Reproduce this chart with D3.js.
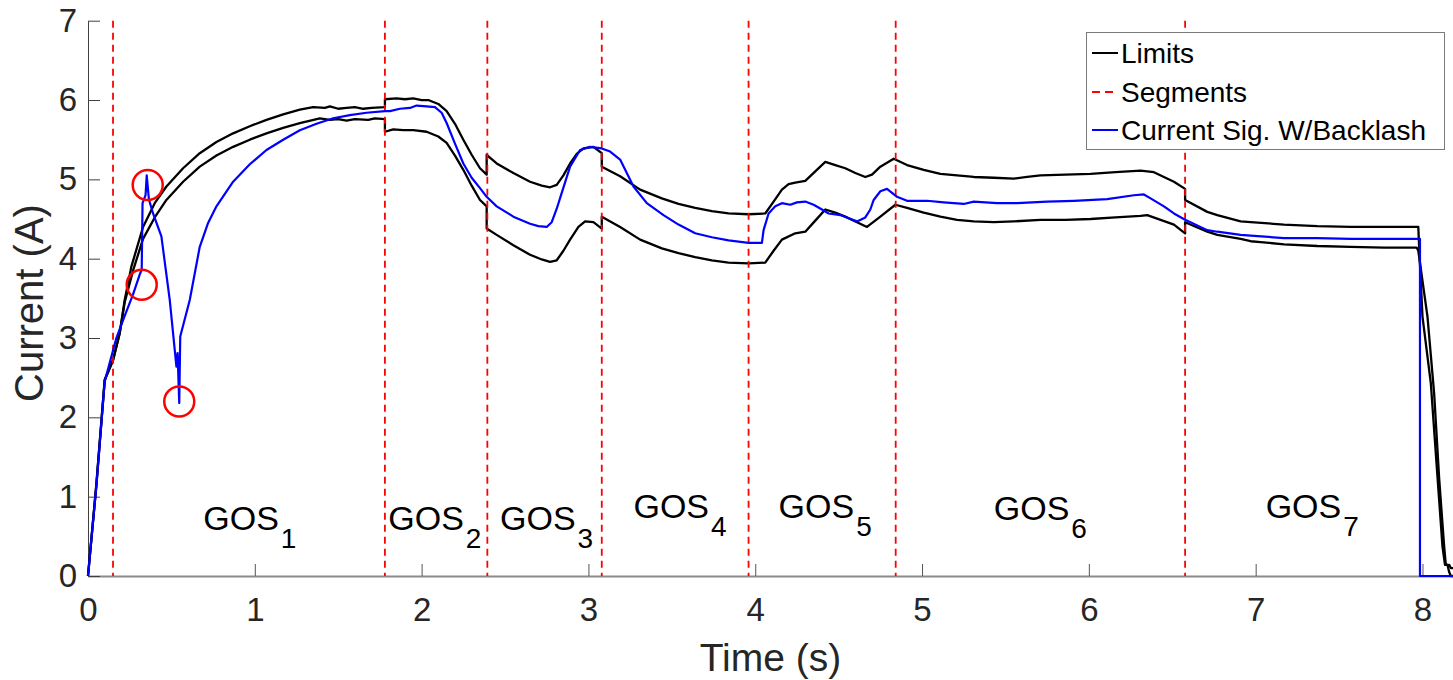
<!DOCTYPE html>
<html>
<head>
<meta charset="utf-8">
<script src="https://cdn.jsdelivr.net/npm/d3@7"></script>
<style>
  html, body { margin: 0; padding: 0; background: #fff; }
  svg { display: block; font-family: "Liberation Sans", Arial, Helvetica, sans-serif; }
</style>
</head>
<body>
<svg id="chart" width="1453" height="680"></svg>
<script>
// ---- data -------------------------------------------------------------
// Upper current limit [time (s), current (A)]
const upperLimit = [
  [0,0],[0.05,1.15],[0.10,2.47],[0.15,2.72],[0.19,3.06],[0.22,3.48],[0.26,3.90],
  [0.33,4.40],[0.40,4.70],[0.47,4.91],[0.57,5.14],[0.67,5.33],[0.77,5.47],[0.87,5.58],
  [0.97,5.67],[1.07,5.75],[1.17,5.82],[1.27,5.88],[1.35,5.91],[1.42,5.90],[1.45,5.92],
  [1.50,5.89],[1.55,5.90],[1.60,5.91],[1.65,5.89],[1.70,5.90],[1.78,5.91],
  [1.78,6.01],[1.85,6.02],[1.90,6.01],[1.95,6.02],[2.00,6.00],[2.04,6.00],[2.10,5.95],
  [2.15,5.86],[2.20,5.70],[2.25,5.50],[2.30,5.31],[2.35,5.14],[2.39,5.06],
  [2.39,5.31],[2.45,5.20],[2.55,5.08],[2.65,4.97],[2.72,4.92],[2.77,4.90],[2.81,4.93],
  [2.85,5.05],[2.89,5.20],[2.93,5.32],[2.97,5.39],[3.03,5.41],[3.08,5.33],
  [3.08,5.16],[3.19,5.04],[3.31,4.87],[3.44,4.76],[3.54,4.69],[3.64,4.64],[3.74,4.60],
  [3.84,4.57],[3.96,4.56],[4.06,4.57],[4.11,4.72],[4.16,4.87],[4.20,4.94],[4.24,4.96],
  [4.30,4.98],[4.36,5.10],[4.42,5.22],[4.48,5.18],[4.54,5.14],[4.60,5.08],[4.66,5.03],
  [4.70,5.06],[4.75,5.16],[4.83,5.26],[4.91,5.18],[5.01,5.12],[5.11,5.07],[5.21,5.05],
  [5.31,5.03],[5.43,5.02],[5.55,5.01],[5.63,5.03],[5.71,5.05],[5.86,5.06],[6.01,5.07],
  [6.16,5.09],[6.31,5.11],[6.39,5.09],[6.45,5.03],[6.51,4.97],[6.577,4.88],
  [6.577,4.74],[6.71,4.59],[6.77,4.55],[6.91,4.47],[6.97,4.46],[7.17,4.43],[7.37,4.41],
  [7.57,4.40],[7.77,4.40],[7.975,4.40],[7.98,4.15],[8.00,3.27],[8.05,2.43],[8.09,1.25],
  [8.12,0.37],[8.135,0.14],[8.15,0.14],[8.16,0.05],[8.17,0],[8.183,0]
];

// Lower current limit [time (s), current (A)]
const lowerLimit = [
  [0,0],[0.05,1.15],[0.10,2.47],[0.15,2.72],[0.19,3.06],[0.22,3.45],[0.27,3.85],
  [0.33,4.25],[0.40,4.52],[0.47,4.74],[0.57,4.97],[0.67,5.16],[0.77,5.30],[0.87,5.41],
  [0.97,5.50],[1.07,5.58],[1.17,5.65],[1.27,5.71],[1.39,5.77],[1.45,5.75],[1.50,5.76],
  [1.55,5.74],[1.60,5.76],[1.68,5.75],[1.72,5.77],[1.78,5.76],
  [1.78,5.60],[1.83,5.63],[1.89,5.62],[1.95,5.62],[2.03,5.60],[2.10,5.54],[2.15,5.46],
  [2.20,5.30],[2.25,5.12],[2.30,4.92],[2.35,4.74],[2.39,4.66],
  [2.39,4.38],[2.45,4.30],[2.55,4.17],[2.65,4.05],[2.72,3.99],[2.77,3.96],[2.81,3.98],
  [2.85,4.10],[2.89,4.24],[2.94,4.40],[2.98,4.47],[3.03,4.46],[3.08,4.38],
  [3.08,4.53],[3.19,4.40],[3.31,4.24],[3.44,4.13],[3.54,4.07],[3.64,4.02],[3.74,3.98],
  [3.84,3.95],[3.96,3.94],[4.06,3.95],[4.11,4.10],[4.16,4.24],[4.24,4.32],[4.30,4.34],
  [4.36,4.48],[4.42,4.62],[4.48,4.58],[4.54,4.53],[4.61,4.46],[4.67,4.40],[4.75,4.53],
  [4.84,4.68],[4.91,4.64],[5.01,4.58],[5.11,4.53],[5.21,4.49],[5.31,4.47],[5.43,4.46],
  [5.55,4.47],[5.71,4.49],[5.86,4.49],[6.01,4.50],[6.16,4.52],[6.31,4.54],[6.35,4.55],
  [6.43,4.49],[6.51,4.43],[6.577,4.32],
  [6.577,4.46],[6.71,4.34],[6.77,4.30],[6.91,4.25],[6.97,4.22],[7.03,4.21],[7.17,4.18],
  [7.37,4.16],[7.57,4.15],[7.77,4.14],[7.965,4.14],[7.975,4.10],[8.03,3.27],[8.07,2.30],
  [8.10,1.23],[8.13,0.37],[8.14,0.14],[8.16,0.14],[8.17,0.10],[8.183,0.10]
];

// Measured current signal with backlash [time (s), current (A)]
const currentSignal = [
  [0,0],[0.05,1.13],[0.10,2.45],[0.17,3.00],[0.22,3.28],[0.27,3.55],[0.31,3.80],
  [0.322,3.86],[0.327,4.70],[0.345,4.80],[0.352,5.05],[0.365,4.75],[0.39,4.57],
  [0.44,4.28],[0.49,3.48],[0.53,2.64],[0.537,2.81],[0.547,2.18],[0.553,3.02],[0.61,3.48],
  [0.67,4.15],[0.72,4.45],[0.77,4.66],[0.87,4.97],[0.97,5.19],[1.07,5.37],[1.17,5.50],
  [1.27,5.62],[1.37,5.70],[1.47,5.77],[1.57,5.81],[1.67,5.84],[1.78,5.86],[1.81,5.86],
  [1.87,5.89],[1.93,5.90],[1.97,5.93],[2.03,5.92],[2.08,5.91],[2.12,5.84],[2.15,5.71],
  [2.20,5.45],[2.25,5.20],[2.30,5.02],[2.35,4.89],[2.39,4.78],[2.45,4.66],[2.55,4.53],
  [2.65,4.44],[2.70,4.41],[2.75,4.40],[2.78,4.46],[2.81,4.63],[2.84,4.83],[2.89,5.16],
  [2.95,5.37],[3.01,5.41],[3.08,5.39],[3.13,5.35],[3.19,5.25],[3.27,4.91],[3.35,4.70],
  [3.45,4.55],[3.54,4.43],[3.64,4.32],[3.74,4.27],[3.84,4.23],[3.96,4.20],[4.04,4.20],
  [4.05,4.36],[4.08,4.57],[4.12,4.66],[4.16,4.70],[4.21,4.68],[4.25,4.71],[4.30,4.72],
  [4.35,4.68],[4.40,4.62],[4.44,4.57],[4.51,4.55],[4.56,4.51],[4.61,4.47],[4.66,4.52],
  [4.69,4.62],[4.71,4.74],[4.75,4.85],[4.79,4.88],[4.85,4.78],[4.91,4.73],[5.03,4.73],
  [5.13,4.71],[5.25,4.69],[5.31,4.72],[5.45,4.70],[5.57,4.70],[5.75,4.72],[5.91,4.73],
  [6.11,4.75],[6.27,4.80],[6.33,4.81],[6.37,4.76],[6.45,4.66],[6.51,4.57],[6.577,4.49],
  [6.71,4.36],[6.77,4.34],[6.91,4.30],[6.97,4.29],[7.17,4.26],[7.37,4.26],[7.57,4.25],
  [7.77,4.25],[7.985,4.25],[7.985,0],[8.183,0]
];

// Segment boundaries (s)
const segmentTimes = [0.15, 1.78, 2.394, 3.08, 3.96, 4.842, 6.577];

// Backlash events highlighted with circles [time (s), current (A)]
const backlashPoints = [[0.358, 4.93], [0.322, 3.67], [0.547, 2.20]];

// Segment labels: name, subscript, position [time (s), current (A)]
const segmentLabels = [
  {name: "GOS", sub: "1", t: 0.691, i: 0.58},
  {name: "GOS", sub: "2", t: 1.80,  i: 0.58},
  {name: "GOS", sub: "3", t: 2.47,  i: 0.58},
  {name: "GOS", sub: "4", t: 3.27,  i: 0.73},
  {name: "GOS", sub: "5", t: 4.14,  i: 0.73},
  {name: "GOS", sub: "6", t: 5.43,  i: 0.71},
  {name: "GOS", sub: "7", t: 7.06,  i: 0.73}
];

const xTicks = [0, 1, 2, 3, 4, 5, 6, 7, 8];
const yTicks = [0, 1, 2, 3, 4, 5, 6, 7];

const legendItems = [
  {label: "Limits", color: "#000000", dash: null},
  {label: "Segments", color: "#ff0000", dash: "8,5"},
  {label: "Current Sig. W/Backlash", color: "#0000ff", dash: null}
];

// ---- layout -----------------------------------------------------------
const svg = d3.select("#chart");
const plotLeft = 88, plotRight = 1453, plotTop = 20.7, plotBottom = 576;

const x = d3.scaleLinear().domain([0, 8.183]).range([plotLeft, plotRight]);
const y = d3.scaleLinear().domain([0, 7]).range([plotBottom, plotTop]);

const tickColor = "#262626";
const fmt = d3.format("d");

// ---- axes -------------------------------------------------------------
const xAxis = d3.axisBottom(x).tickValues(xTicks).tickFormat(fmt)
  .tickSizeInner(-12).tickSizeOuter(0).tickPadding(22);
const yAxis = d3.axisLeft(y).tickValues(yTicks).tickFormat(fmt)
  .tickSizeInner(-12).tickSizeOuter(0).tickPadding(11);

const gx = svg.append("g").attr("transform", `translate(0,${plotBottom})`).call(xAxis);
gx.select(".domain").attr("stroke", "#8a8a8a").attr("stroke-width", 2);
gx.selectAll(".tick line").attr("stroke", "#555").attr("stroke-width", 1);
gx.selectAll(".tick text").attr("fill", tickColor).attr("font-size", 33)
  .attr("font-family", "Liberation Sans, Arial, sans-serif");

const gy = svg.append("g").attr("transform", `translate(${plotLeft},0)`).call(yAxis);
gy.select(".domain").attr("stroke", "#404040").attr("stroke-width", 1);
gy.selectAll(".tick line").attr("stroke", "#404040").attr("stroke-width", 1);
gy.selectAll(".tick text").attr("fill", tickColor).attr("font-size", 33)
  .attr("font-family", "Liberation Sans, Arial, sans-serif");

// Axis titles
svg.append("text")
  .attr("x", (plotLeft + plotRight) / 2).attr("y", 671)
  .attr("text-anchor", "middle").attr("font-size", 39).attr("fill", tickColor)
  .text("Time (s)");

svg.append("text")
  .attr("transform", "translate(43,303) rotate(-90)")
  .attr("text-anchor", "middle").attr("font-size", 40).attr("fill", tickColor)
  .text("Current (A)");

// ---- plot content -----------------------------------------------------
const plot = svg.append("g");
const line = d3.line().x(d => x(d[0])).y(d => y(d[1]));

plot.append("path").datum(upperLimit).attr("d", line)
  .attr("fill", "none").attr("stroke", "#000").attr("stroke-width", 2.3).attr("stroke-linejoin", "round");
plot.append("path").datum(lowerLimit).attr("d", line)
  .attr("fill", "none").attr("stroke", "#000").attr("stroke-width", 2.3).attr("stroke-linejoin", "round");

plot.selectAll("line.segment").data(segmentTimes).join("line")
  .attr("class", "segment")
  .attr("x1", d => x(d)).attr("x2", d => x(d))
  .attr("y1", y(7)).attr("y2", y(0))
  .attr("stroke", "#ff0000").attr("stroke-width", 1.8).attr("stroke-dasharray", "7,5");

plot.append("path").datum(currentSignal).attr("d", line)
  .attr("fill", "none").attr("stroke", "#0000ff").attr("stroke-width", 2.2).attr("stroke-linejoin", "round");

plot.selectAll("circle.backlash").data(backlashPoints).join("circle")
  .attr("class", "backlash")
  .attr("cx", d => x(d[0])).attr("cy", d => y(d[1])).attr("r", 15)
  .attr("fill", "none").attr("stroke", "#ff0000").attr("stroke-width", 2.5);

// Segment labels with subscripts
const lbl = plot.selectAll("text.seg").data(segmentLabels).join("text")
  .attr("class", "seg")
  .attr("x", d => x(d.t)).attr("y", d => y(d.i))
  .attr("font-size", 34).attr("fill", "#000");
lbl.append("tspan").text(d => d.name);
lbl.append("tspan").attr("dx", 2).attr("dy", 18).attr("font-size", 28).text(d => d.sub);

// ---- legend -----------------------------------------------------------
const lg = svg.append("g");
lg.append("rect")
  .attr("x", 1086.5).attr("y", 32.5).attr("width", 358).attr("height", 117)
  .attr("fill", "#fff").attr("stroke", "#7a7a7a").attr("stroke-width", 1);

const rowY = [53, 92, 130];
legendItems.forEach((it, k) => {
  lg.append("line")
    .attr("x1", 1092).attr("x2", 1118).attr("y1", rowY[k]).attr("y2", rowY[k])
    .attr("stroke", it.color).attr("stroke-width", 2)
    .attr("stroke-dasharray", it.dash);
  lg.append("text")
    .attr("x", 1121).attr("y", rowY[k]).attr("dy", "0.35em")
    .attr("font-size", 28).attr("fill", "#000")
    .text(it.label);
});
</script>
</body>
</html>
